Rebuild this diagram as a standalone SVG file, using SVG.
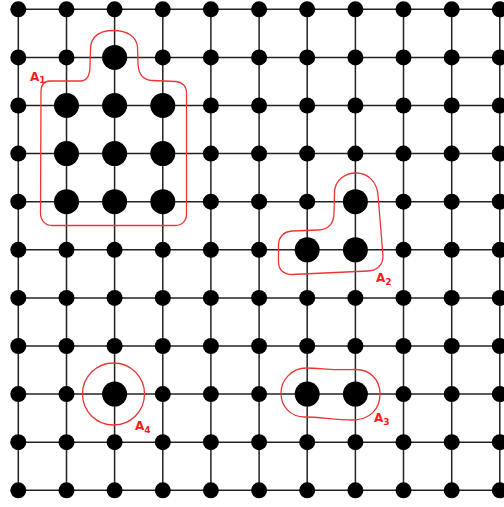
<svg xmlns="http://www.w3.org/2000/svg" width="504" height="507" viewBox="0 0 504 507">
<style>
.g line{stroke:#222;stroke-width:1.5}
.s{fill:#000}
.b{fill:#000}
.r{fill:none;stroke:#f03434;stroke-width:1.3}
.t{font-family:"DejaVu Sans",sans-serif;font-weight:bold;font-size:12px;fill:#ff1a1a}
.t tspan{font-size:9px}
</style>
<rect width="504" height="507" fill="#fff"/>
<g id="connectors" class="g">
<line x1="18.3" y1="9.3" x2="499.8" y2="9.3"/>
<line x1="18.3" y1="57.4" x2="499.8" y2="57.4"/>
<line x1="18.3" y1="105.5" x2="499.8" y2="105.5"/>
<line x1="18.3" y1="153.6" x2="499.8" y2="153.6"/>
<line x1="18.3" y1="201.7" x2="499.8" y2="201.7"/>
<line x1="18.3" y1="249.8" x2="499.8" y2="249.8"/>
<line x1="18.3" y1="297.9" x2="499.8" y2="297.9"/>
<line x1="18.3" y1="346" x2="499.8" y2="346"/>
<line x1="18.3" y1="394.1" x2="499.8" y2="394.1"/>
<line x1="18.3" y1="442.2" x2="499.8" y2="442.2"/>
<line x1="18.3" y1="490.3" x2="499.8" y2="490.3"/>
<line x1="18.3" y1="9.3" x2="18.3" y2="490.3"/>
<line x1="66.5" y1="9.3" x2="66.5" y2="490.3"/>
<line x1="114.6" y1="9.3" x2="114.6" y2="490.3"/>
<line x1="162.8" y1="9.3" x2="162.8" y2="490.3"/>
<line x1="210.9" y1="9.3" x2="210.9" y2="490.3"/>
<line x1="259.1" y1="9.3" x2="259.1" y2="490.3"/>
<line x1="307.2" y1="9.3" x2="307.2" y2="490.3"/>
<line x1="355.4" y1="9.3" x2="355.4" y2="490.3"/>
<line x1="403.5" y1="9.3" x2="403.5" y2="490.3"/>
<line x1="451.7" y1="9.3" x2="451.7" y2="490.3"/>
<line x1="499.8" y1="9.3" x2="499.8" y2="490.3"/>
</g>
<g id="nodes">
<g id="n0_0"><circle class="s" cx="18.3" cy="9.3" r="8"/></g>
<g id="n0_1"><circle class="s" cx="66.5" cy="9.3" r="8"/></g>
<g id="n0_2"><circle class="s" cx="114.6" cy="9.3" r="8"/></g>
<g id="n0_3"><circle class="s" cx="162.8" cy="9.3" r="8"/></g>
<g id="n0_4"><circle class="s" cx="210.9" cy="9.3" r="8"/></g>
<g id="n0_5"><circle class="s" cx="259.1" cy="9.3" r="8"/></g>
<g id="n0_6"><circle class="s" cx="307.2" cy="9.3" r="8"/></g>
<g id="n0_7"><circle class="s" cx="355.4" cy="9.3" r="8"/></g>
<g id="n0_8"><circle class="s" cx="403.5" cy="9.3" r="8"/></g>
<g id="n0_9"><circle class="s" cx="451.7" cy="9.3" r="8"/></g>
<g id="n0_10"><circle class="s" cx="499.8" cy="9.3" r="8"/></g>
<g id="n1_0"><circle class="s" cx="18.3" cy="57.4" r="8"/></g>
<g id="n1_1"><circle class="s" cx="66.5" cy="57.4" r="8"/></g>
<g id="n1_2"><circle class="b" cx="114.6" cy="57.4" r="12.5"/></g>
<g id="n1_3"><circle class="s" cx="162.8" cy="57.4" r="8"/></g>
<g id="n1_4"><circle class="s" cx="210.9" cy="57.4" r="8"/></g>
<g id="n1_5"><circle class="s" cx="259.1" cy="57.4" r="8"/></g>
<g id="n1_6"><circle class="s" cx="307.2" cy="57.4" r="8"/></g>
<g id="n1_7"><circle class="s" cx="355.4" cy="57.4" r="8"/></g>
<g id="n1_8"><circle class="s" cx="403.5" cy="57.4" r="8"/></g>
<g id="n1_9"><circle class="s" cx="451.7" cy="57.4" r="8"/></g>
<g id="n1_10"><circle class="s" cx="499.8" cy="57.4" r="8"/></g>
<g id="n2_0"><circle class="s" cx="18.3" cy="105.5" r="8"/></g>
<g id="n2_1"><circle class="b" cx="66.5" cy="105.5" r="12.5"/></g>
<g id="n2_2"><circle class="b" cx="114.6" cy="105.5" r="12.5"/></g>
<g id="n2_3"><circle class="b" cx="162.8" cy="105.5" r="12.5"/></g>
<g id="n2_4"><circle class="s" cx="210.9" cy="105.5" r="8"/></g>
<g id="n2_5"><circle class="s" cx="259.1" cy="105.5" r="8"/></g>
<g id="n2_6"><circle class="s" cx="307.2" cy="105.5" r="8"/></g>
<g id="n2_7"><circle class="s" cx="355.4" cy="105.5" r="8"/></g>
<g id="n2_8"><circle class="s" cx="403.5" cy="105.5" r="8"/></g>
<g id="n2_9"><circle class="s" cx="451.7" cy="105.5" r="8"/></g>
<g id="n2_10"><circle class="s" cx="499.8" cy="105.5" r="8"/></g>
<g id="n3_0"><circle class="s" cx="18.3" cy="153.6" r="8"/></g>
<g id="n3_1"><circle class="b" cx="66.5" cy="153.6" r="12.5"/></g>
<g id="n3_2"><circle class="b" cx="114.6" cy="153.6" r="12.5"/></g>
<g id="n3_3"><circle class="b" cx="162.8" cy="153.6" r="12.5"/></g>
<g id="n3_4"><circle class="s" cx="210.9" cy="153.6" r="8"/></g>
<g id="n3_5"><circle class="s" cx="259.1" cy="153.6" r="8"/></g>
<g id="n3_6"><circle class="s" cx="307.2" cy="153.6" r="8"/></g>
<g id="n3_7"><circle class="s" cx="355.4" cy="153.6" r="8"/></g>
<g id="n3_8"><circle class="s" cx="403.5" cy="153.6" r="8"/></g>
<g id="n3_9"><circle class="s" cx="451.7" cy="153.6" r="8"/></g>
<g id="n3_10"><circle class="s" cx="499.8" cy="153.6" r="8"/></g>
<g id="n4_0"><circle class="s" cx="18.3" cy="201.7" r="8"/></g>
<g id="n4_1"><circle class="b" cx="66.5" cy="201.7" r="12.5"/></g>
<g id="n4_2"><circle class="b" cx="114.6" cy="201.7" r="12.5"/></g>
<g id="n4_3"><circle class="b" cx="162.8" cy="201.7" r="12.5"/></g>
<g id="n4_4"><circle class="s" cx="210.9" cy="201.7" r="8"/></g>
<g id="n4_5"><circle class="s" cx="259.1" cy="201.7" r="8"/></g>
<g id="n4_6"><circle class="s" cx="307.2" cy="201.7" r="8"/></g>
<g id="n4_7"><circle class="b" cx="355.4" cy="201.7" r="12.5"/></g>
<g id="n4_8"><circle class="s" cx="403.5" cy="201.7" r="8"/></g>
<g id="n4_9"><circle class="s" cx="451.7" cy="201.7" r="8"/></g>
<g id="n4_10"><circle class="s" cx="499.8" cy="201.7" r="8"/></g>
<g id="n5_0"><circle class="s" cx="18.3" cy="249.8" r="8"/></g>
<g id="n5_1"><circle class="s" cx="66.5" cy="249.8" r="8"/></g>
<g id="n5_2"><circle class="s" cx="114.6" cy="249.8" r="8"/></g>
<g id="n5_3"><circle class="s" cx="162.8" cy="249.8" r="8"/></g>
<g id="n5_4"><circle class="s" cx="210.9" cy="249.8" r="8"/></g>
<g id="n5_5"><circle class="s" cx="259.1" cy="249.8" r="8"/></g>
<g id="n5_6"><circle class="b" cx="307.2" cy="249.8" r="12.5"/></g>
<g id="n5_7"><circle class="b" cx="355.4" cy="249.8" r="12.5"/></g>
<g id="n5_8"><circle class="s" cx="403.5" cy="249.8" r="8"/></g>
<g id="n5_9"><circle class="s" cx="451.7" cy="249.8" r="8"/></g>
<g id="n5_10"><circle class="s" cx="499.8" cy="249.8" r="8"/></g>
<g id="n6_0"><circle class="s" cx="18.3" cy="297.9" r="8"/></g>
<g id="n6_1"><circle class="s" cx="66.5" cy="297.9" r="8"/></g>
<g id="n6_2"><circle class="s" cx="114.6" cy="297.9" r="8"/></g>
<g id="n6_3"><circle class="s" cx="162.8" cy="297.9" r="8"/></g>
<g id="n6_4"><circle class="s" cx="210.9" cy="297.9" r="8"/></g>
<g id="n6_5"><circle class="s" cx="259.1" cy="297.9" r="8"/></g>
<g id="n6_6"><circle class="s" cx="307.2" cy="297.9" r="8"/></g>
<g id="n6_7"><circle class="s" cx="355.4" cy="297.9" r="8"/></g>
<g id="n6_8"><circle class="s" cx="403.5" cy="297.9" r="8"/></g>
<g id="n6_9"><circle class="s" cx="451.7" cy="297.9" r="8"/></g>
<g id="n6_10"><circle class="s" cx="499.8" cy="297.9" r="8"/></g>
<g id="n7_0"><circle class="s" cx="18.3" cy="346" r="8"/></g>
<g id="n7_1"><circle class="s" cx="66.5" cy="346" r="8"/></g>
<g id="n7_2"><circle class="s" cx="114.6" cy="346" r="8"/></g>
<g id="n7_3"><circle class="s" cx="162.8" cy="346" r="8"/></g>
<g id="n7_4"><circle class="s" cx="210.9" cy="346" r="8"/></g>
<g id="n7_5"><circle class="s" cx="259.1" cy="346" r="8"/></g>
<g id="n7_6"><circle class="s" cx="307.2" cy="346" r="8"/></g>
<g id="n7_7"><circle class="s" cx="355.4" cy="346" r="8"/></g>
<g id="n7_8"><circle class="s" cx="403.5" cy="346" r="8"/></g>
<g id="n7_9"><circle class="s" cx="451.7" cy="346" r="8"/></g>
<g id="n7_10"><circle class="s" cx="499.8" cy="346" r="8"/></g>
<g id="n8_0"><circle class="s" cx="18.3" cy="394.1" r="8"/></g>
<g id="n8_1"><circle class="s" cx="66.5" cy="394.1" r="8"/></g>
<g id="n8_2"><circle class="b" cx="114.6" cy="394.1" r="12.5"/></g>
<g id="n8_3"><circle class="s" cx="162.8" cy="394.1" r="8"/></g>
<g id="n8_4"><circle class="s" cx="210.9" cy="394.1" r="8"/></g>
<g id="n8_5"><circle class="s" cx="259.1" cy="394.1" r="8"/></g>
<g id="n8_6"><circle class="b" cx="307.2" cy="394.1" r="12.5"/></g>
<g id="n8_7"><circle class="b" cx="355.4" cy="394.1" r="12.5"/></g>
<g id="n8_8"><circle class="s" cx="403.5" cy="394.1" r="8"/></g>
<g id="n8_9"><circle class="s" cx="451.7" cy="394.1" r="8"/></g>
<g id="n8_10"><circle class="s" cx="499.8" cy="394.1" r="8"/></g>
<g id="n9_0"><circle class="s" cx="18.3" cy="442.2" r="8"/></g>
<g id="n9_1"><circle class="s" cx="66.5" cy="442.2" r="8"/></g>
<g id="n9_2"><circle class="s" cx="114.6" cy="442.2" r="8"/></g>
<g id="n9_3"><circle class="s" cx="162.8" cy="442.2" r="8"/></g>
<g id="n9_4"><circle class="s" cx="210.9" cy="442.2" r="8"/></g>
<g id="n9_5"><circle class="s" cx="259.1" cy="442.2" r="8"/></g>
<g id="n9_6"><circle class="s" cx="307.2" cy="442.2" r="8"/></g>
<g id="n9_7"><circle class="s" cx="355.4" cy="442.2" r="8"/></g>
<g id="n9_8"><circle class="s" cx="403.5" cy="442.2" r="8"/></g>
<g id="n9_9"><circle class="s" cx="451.7" cy="442.2" r="8"/></g>
<g id="n9_10"><circle class="s" cx="499.8" cy="442.2" r="8"/></g>
<g id="n10_0"><circle class="s" cx="18.3" cy="490.3" r="8"/></g>
<g id="n10_1"><circle class="s" cx="66.5" cy="490.3" r="8"/></g>
<g id="n10_2"><circle class="s" cx="114.6" cy="490.3" r="8"/></g>
<g id="n10_3"><circle class="s" cx="162.8" cy="490.3" r="8"/></g>
<g id="n10_4"><circle class="s" cx="210.9" cy="490.3" r="8"/></g>
<g id="n10_5"><circle class="s" cx="259.1" cy="490.3" r="8"/></g>
<g id="n10_6"><circle class="s" cx="307.2" cy="490.3" r="8"/></g>
<g id="n10_7"><circle class="s" cx="355.4" cy="490.3" r="8"/></g>
<g id="n10_8"><circle class="s" cx="403.5" cy="490.3" r="8"/></g>
<g id="n10_9"><circle class="s" cx="451.7" cy="490.3" r="8"/></g>
<g id="n10_10"><circle class="s" cx="499.8" cy="490.3" r="8"/></g>
</g>
<g id="regions">
<g id="A1">
<path class="r" d="M 50,81 L 80,81 C 86,81 90,76 90,66 L 90.5,48 C 91,37 99,30.5 113,30.5 C 128,30.5 136.5,37 137.5,47 L 138,64 C 138.5,74 143,80 152,80.5 L 176,81.5 C 182,82 186.5,86 186.5,93 L 186.5,214 C 186.5,221 182,225.5 175,225.5 L 52,225.5 C 45,225.5 40.5,220 40.5,213 L 41,92 C 41,85 44,81 50,81 Z"/>
<text class="t" x="30" y="80.5">A<tspan dy="2.5">1</tspan></text>
</g>
<g id="A2">
<path class="r" d="M 356,173 C 345,173 335,180 334.5,192 L 334,214 C 333.5,224 328,229.5 318,230 L 292,231 C 284,231.5 278.5,237 278.5,245 L 278.5,262 C 278.5,270 284,274.5 292,274.5 L 368,271 C 377,270.5 383,265 383,256 L 378,195 C 377,182 368,173 356,173 Z"/>
<text class="t" x="376" y="282">A<tspan dy="2.5">2</tspan></text>
</g>
<g id="A3">
<path class="r" d="M 306,368 C 320,368 335,370.5 355,369.5 C 370,369 380,380 380,394 C 380,409 370,420 352,420 C 335,420 320,417 305,417 C 290,417 281,406 281,393 C 281,380 292,368 306,368 Z"/>
<text class="t" x="374" y="422">A<tspan dy="2.5">3</tspan></text>
</g>
<g id="A4">
<circle class="r" cx="113.5" cy="394" r="31"/>
<text class="t" x="135" y="430">A<tspan dy="2.5">4</tspan></text>
</g>
</g>
</svg>
